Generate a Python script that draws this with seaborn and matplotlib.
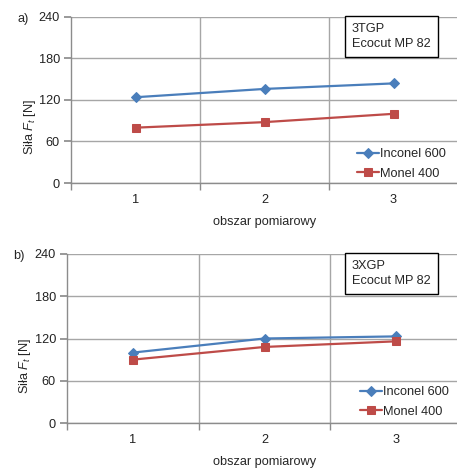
import matplotlib
matplotlib.use("Agg")
import matplotlib.pyplot as plt
import seaborn as sns
import pandas as pd

areas = [1, 2, 3]
series_names = ["Inconel 600", "Monel 400"]
a_inconel = [124, 136, 144]
a_monel = [80, 88, 100]
b_inconel = [100, 120, 123]
b_monel = [90, 108, 116]
panel_labels = ["a)", "b)"]
box_texts = ["3TGP\nEcocut MP 82", "3XGP\nEcocut MP 82"]
yticks = [0, 60, 120, 180, 240]

sns.set_theme(style="white")
plt.rcParams['font.family'] = ['Liberation Sans', 'DejaVu Sans']
plt.rcParams['mathtext.fontset'] = 'custom'
plt.rcParams['mathtext.it'] = 'Liberation Sans:italic'
plt.rcParams['mathtext.rm'] = 'Liberation Sans'

FS = 9.2
colors = {"Inconel 600": "#4A7EBB", "Monel 400": "#BE4B48"}
markers = {"Inconel 600": "D", "Monel 400": "s"}

W, H = 457, 469
fig = plt.figure(figsize=(4.57, 4.69), dpi=100)


def axes_px(left, right, top, bottom):
    return [left / W, 1 - bottom / H, (right - left) / W, (bottom - top) / H]


ax_a = fig.add_axes(axes_px(71, 458, 17, 183))
ax_b = fig.add_axes(axes_px(67, 462, 254, 423))

panels = [(ax_a, a_inconel, a_monel), (ax_b, b_inconel, b_monel)]
label_pos = [(17, 19), (13, 256)]
box_pos = [(352, 23), (352, 260)]
leg_pos = [(357, 148), (360, 386)]
ylab_x = [-0.085, -0.086]
gc = "#A6A6A6"
for i, (ax, inc, mon) in enumerate(panels):
    df = pd.DataFrame({
        "area": areas * 2,
        "value": inc + mon,
        "series": [series_names[0]] * 3 + [series_names[1]] * 3,
    })
    for name in series_names:
        sub = df[df["series"] == name]
        sns.lineplot(data=sub, x="area", y="value", ax=ax, color=colors[name],
                     marker=markers[name], markersize=6 if name == "Monel 400" else 5,
                     markeredgecolor=colors[name], linewidth=1.6, label=name)
    ax.set_xlim(0.5, 3.5)
    ax.set_ylim(0, 240)
    ax.set_yticks(yticks)
    ax.set_xticks(areas)
    ax.set_xticks([0.5, 1.5, 2.5, 3.5], minor=True)
    ax.grid(False)
    for y in yticks:
        ax.axhline(y, color=gc, lw=1, zorder=0)
    for x in [1.5, 2.5]:
        ax.axvline(x, color=gc, lw=1, zorder=0)
    for s in ["top", "right"]:
        ax.spines[s].set_visible(False)
    for s in ["left", "bottom"]:
        ax.spines[s].set_color("#8C8C8C")
        ax.spines[s].set_linewidth(1)
    ax.tick_params(axis="x", which="major", length=0, pad=8, labelsize=FS, colors="#222222")
    ax.tick_params(axis="x", which="minor", length=5, color="#8C8C8C", direction="out", bottom=True)
    ax.tick_params(axis="y", which="major", length=5, color="#8C8C8C", direction="out",
                   labelsize=FS, left=True, pad=3, labelcolor="#222222")
    ax.set_xlabel("obszar pomiarowy", fontsize=FS, labelpad=7)
    ax.set_ylabel("Siła $\\mathit{F_t}$ [N]", fontsize=FS)
    ax.yaxis.set_label_coords(ylab_x[i], 0.337)
    lx0, ly0 = leg_pos[i]
    ax.legend(loc="upper left", frameon=False, fontsize=FS,
              handlelength=1.75, handletextpad=0.05, labelspacing=0.6,
              borderpad=0, borderaxespad=0,
              bbox_to_anchor=(lx0 / W, 1 - ly0 / H), bbox_transform=fig.transFigure)
    bx, by = box_pos[i]
    fig.text(bx / W, 1 - by / H, box_texts[i], ha="left", va="top",
             fontsize=FS, linespacing=1.3,
             bbox=dict(boxstyle="square,pad=0.55", facecolor="white", edgecolor="black", lw=1))
    lx, ly = label_pos[i]
    fig.text(lx / W, 1 - ly / H, panel_labels[i], ha="left", va="center", fontsize=FS)

fig.savefig("out.png", dpi=100)
